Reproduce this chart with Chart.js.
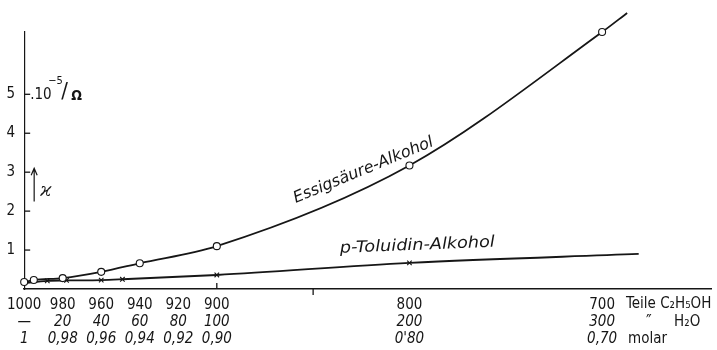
<!DOCTYPE html>
<html>
<head>
<meta charset="utf-8">
<script src="https://cdn.jsdelivr.net/npm/chart.js@4/dist/chart.umd.min.js"></script>
<style>
  html, body { margin: 0; padding: 0; background: #fff; }
  #wrap { width: 717px; height: 350px; position: relative; }
</style>
</head>
<body>
<div id="wrap"><canvas id="c"></canvas></div>
<script>
// Teile Alkohol (x axis, reversed) and conductivity x 10^-5 1/Ohm
const essigX = [1000, 995, 980, 960, 940, 900, 800, 700, 687];
const essigY = [0.18, 0.23, 0.28, 0.44, 0.66, 1.1, 3.17, 6.6, 7.09];
const essigMarked = [true, true, true, true, true, true, true, true, false];

const toluX = [1000, 988, 978, 960, 949, 900, 800, 681];
const toluY = [0.15, 0.21, 0.22, 0.23, 0.25, 0.36, 0.67, 0.9];
const toluMarked = [false, true, true, true, true, true, true, false];

// bottom label rows
const teileAlkohol = [1000, 980, 960, 940, 920, 900, 800, 700];
const teileWasser = ['\u2014', '20', '40', '60', '80', '100', '200', '300'];
const molar = ['1', '0,98', '0,96', '0,94', '0,92', '0,90', "0'80", '0,70'];
const yTicks = [1, 2, 3, 4, 5];

const INK = '#161616';
const NARROW = "'Liberation Sans Narrow', 'DejaVu Sans Condensed', 'Liberation Sans', sans-serif";

function pts(xs, ys) {
  return xs.map((x, i) => ({ x, y: ys[i] }));
}

function fitText(ctx, txt, x, y, deg, len, font) {
  ctx.save();
  ctx.translate(x, y);
  ctx.rotate(deg * Math.PI / 180);
  ctx.font = font;
  const w = ctx.measureText(txt).width;
  ctx.scale(len / w, 1);
  ctx.textAlign = 'left';
  ctx.textBaseline = 'alphabetic';
  ctx.fillText(txt, 0, 0);
  ctx.restore();
}

const decor = {
  id: 'decor',
  afterDraw(chart) {
    const { ctx, scales: { x, y } } = chart;
    ctx.save();
    ctx.fillStyle = INK;
    ctx.strokeStyle = INK;

    // inward y tick marks
    ctx.lineWidth = 1.3;
    yTicks.forEach(v => {
      const py = y.getPixelForValue(v);
      ctx.beginPath();
      ctx.moveTo(x.left, py);
      ctx.lineTo(x.left + 6, py);
      ctx.stroke();
    });

    // small marks on x axis
    const ax = y.getPixelForValue(0);
    ctx.beginPath();
    ctx.moveTo(x.getPixelForValue(900), ax);
    ctx.lineTo(x.getPixelForValue(900), ax - 6);
    ctx.moveTo(x.getPixelForValue(850), ax);
    ctx.lineTo(x.getPixelForValue(850), ax + 6);
    ctx.stroke();

    // rows 2 and 3 under the axis
    ctx.textAlign = 'center';
    ctx.textBaseline = 'middle';
    ctx.font = 'italic 15px ' + NARROW;
    teileAlkohol.forEach((v, i) => {
      const px = x.getPixelForValue(v);
      ctx.fillText(teileWasser[i], px, 322);
      ctx.fillText(molar[i], px, 339);
    });

    // right-hand descriptions
    const p7 = x.getPixelForValue(700);
    ctx.textAlign = 'left';
    ctx.font = '15px ' + NARROW;
    ctx.fillText('Teile C\u2082H\u2085OH', p7 + 24, 304);
    ctx.font = '17px ' + NARROW;
    ctx.fillText('\u2033', p7 + 44, 323);
    ctx.font = '15px ' + NARROW;
    ctx.fillText('H\u2082O', p7 + 72, 322);
    ctx.fillText('molar', p7 + 26, 339);

    // unit label at y = 5
    const p5 = y.getPixelForValue(5);
    const lx = x.left + 6;
    ctx.font = '15px ' + NARROW;
    ctx.textBaseline = 'alphabetic';
    ctx.fillText('.10', lx, p5 + 5);
    ctx.font = '11px ' + NARROW;
    ctx.fillText('\u22125', lx + 18, p5 - 10);
    ctx.font = '22px ' + NARROW;
    ctx.fillText('/', lx + 31, p5 + 4);
    ctx.font = 'bold 14px ' + NARROW;
    ctx.fillText('\u03A9', lx + 41, p5 + 6);

    // kappa arrow
    const ay0 = y.getPixelForValue(2.25);
    const ay1 = y.getPixelForValue(3.1);
    const axp = x.left + 10;
    ctx.lineWidth = 1.2;
    ctx.beginPath();
    ctx.moveTo(axp, ay0);
    ctx.lineTo(axp, ay1);
    ctx.moveTo(axp - 3, ay1 + 7);
    ctx.lineTo(axp, ay1);
    ctx.lineTo(axp + 3, ay1 + 7);
    ctx.stroke();
    ctx.font = 'italic 18px DejaVu Serif, serif';
    ctx.fillText('\u03F0', axp + 6, y.getPixelForValue(2.4));

    // curve labels
    fitText(ctx, 'Essigs\u00E4ure-Alkohol',
      x.getPixelForValue(859), y.getPixelForValue(2.21), -22.5, 150, 'italic 16px ' + NARROW);
    fitText(ctx, 'p-Toluidin-Alkohol',
      x.getPixelForValue(836), y.getPixelForValue(0.93), -2.3, 155, 'italic 16px ' + NARROW);

    ctx.restore();
  }
};

new Chart(document.getElementById('c'), {
  type: 'line',
  data: {
    datasets: [
      {
        label: 'Essigsäure-Alkohol',
        data: pts(essigX, essigY),
        borderColor: INK,
        borderWidth: 1.8,
        cubicInterpolationMode: 'monotone',
        pointStyle: 'circle',
        pointRadius: essigMarked.map(m => m ? 3.5 : 0),
        pointBackgroundColor: '#fff',
        pointBorderColor: INK,
        pointBorderWidth: 1.1,
        clip: false
      },
      {
        label: 'p-Toluidin-Alkohol',
        data: pts(toluX, toluY),
        borderColor: INK,
        borderWidth: 1.8,
        cubicInterpolationMode: 'monotone',
        pointStyle: 'crossRot',
        pointRadius: toluMarked.map(m => m ? 3.2 : 0),
        pointBorderColor: INK,
        pointBorderWidth: 1.1,
        clip: false
      }
    ]
  },
  options: {
    responsive: true,
    maintainAspectRatio: false,
    animation: false,
    events: [],
    layout: { padding: { top: 32, right: 5, left: 0, bottom: 0 } },
    plugins: { legend: { display: false }, tooltip: { enabled: false } },
    scales: {
      x: {
        type: 'linear',
        reverse: true,
        min: 643,
        max: 1000,
        grid: { display: false, drawTicks: false },
        border: { display: true, color: INK, width: 1.6 },
        afterBuildTicks: s => { s.ticks = teileAlkohol.map(v => ({ value: v })); },
        afterFit: s => { s.height = 61; },
        ticks: {
          autoSkip: false,
          maxRotation: 0,
          padding: 7,
          color: INK,
          font: { family: NARROW, size: 15 },
          callback: v => String(v)
        }
      },
      y: {
        type: 'linear',
        min: 0,
        max: 6.6,
        grid: { display: false, drawTicks: false },
        border: { display: true, color: INK, width: 1.2 },
        afterBuildTicks: s => { s.ticks = yTicks.map(v => ({ value: v })); },
        afterFit: s => { s.width = 23; },
        ticks: {
          padding: 9,
          color: INK,
          font: { family: NARROW, size: 15 },
          callback: v => String(v)
        }
      }
    }
  },
  plugins: [decor]
});
</script>
</body>
</html>
